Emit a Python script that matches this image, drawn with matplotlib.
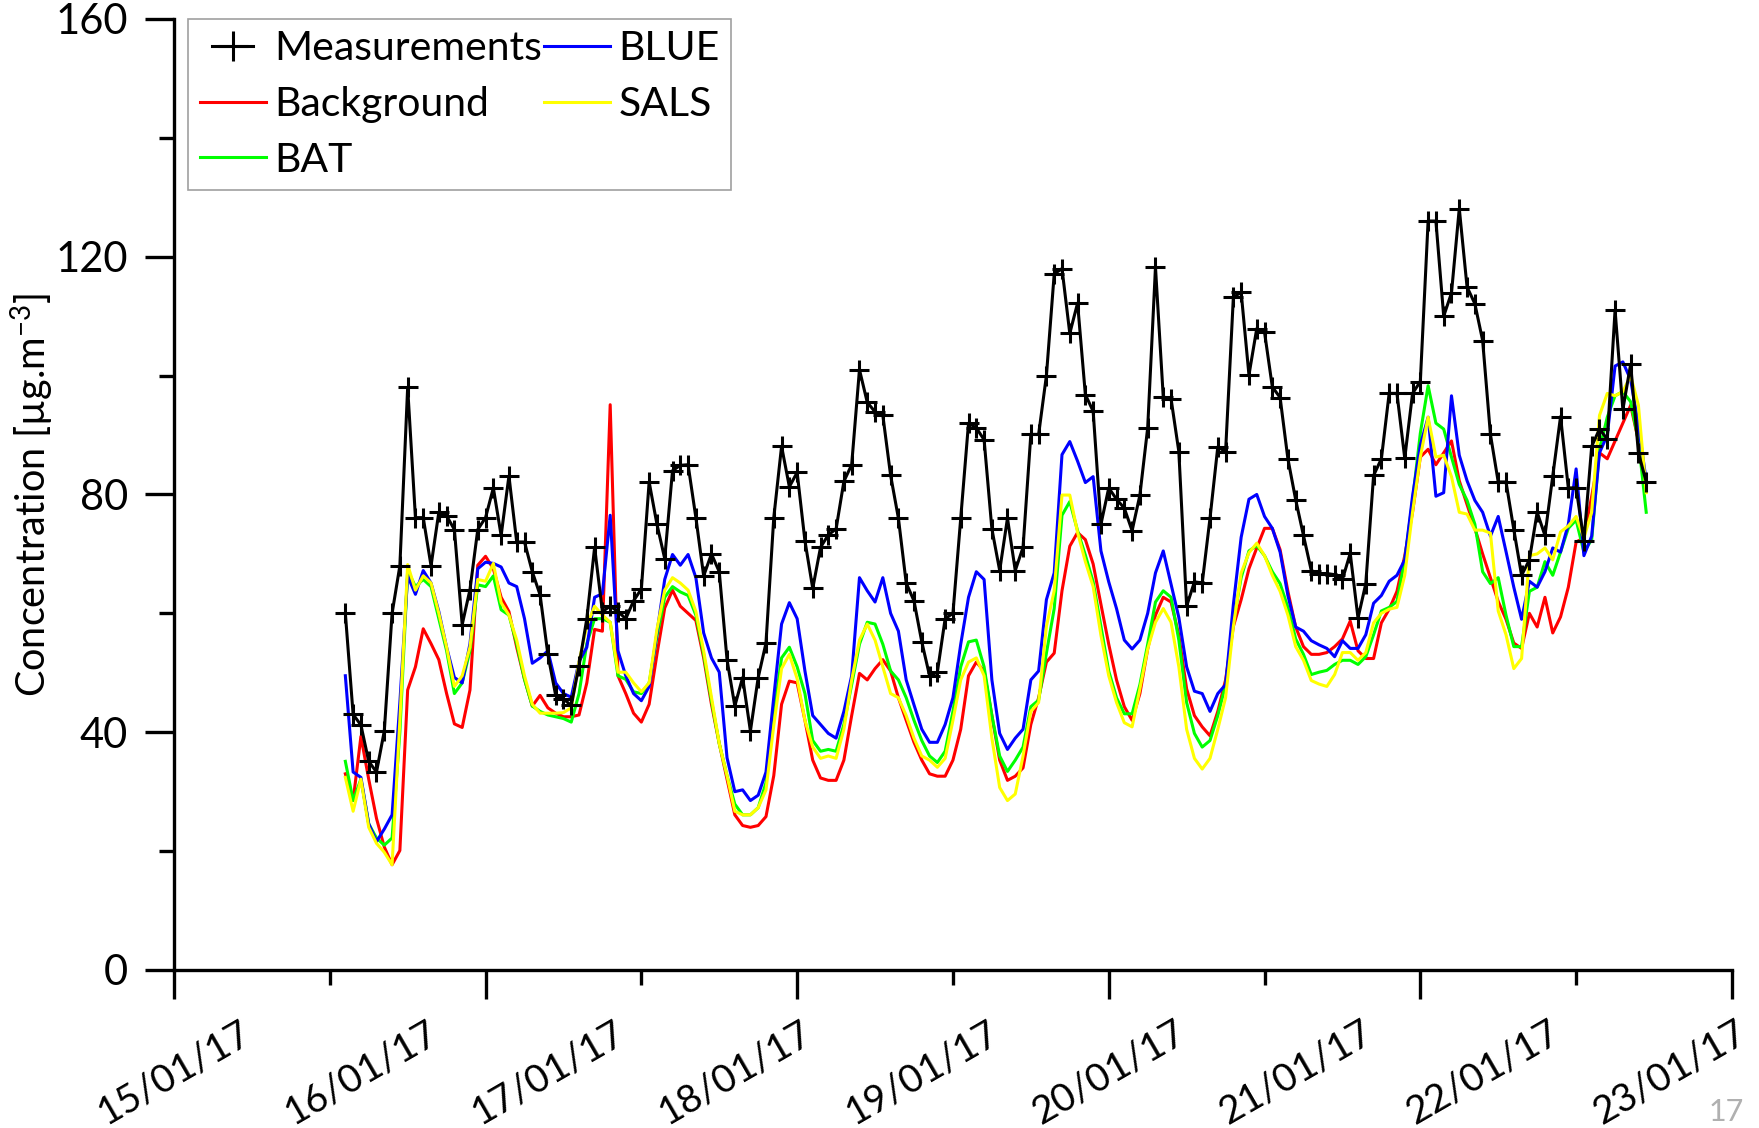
import matplotlib
matplotlib.use("Agg")
import matplotlib.pyplot as plt
import matplotlib.dates as mdates
from matplotlib.lines import Line2D
from matplotlib.legend_handler import HandlerBase
from matplotlib.ticker import FixedLocator, MultipleLocator, NullFormatter
import pandas as pd

plt.rcParams['font.family'] = ['Lato', 'DejaVu Sans']
plt.rcParams['mathtext.fontset'] = 'custom'
plt.rcParams['mathtext.rm'] = 'Lato'
plt.rcParams['mathtext.it'] = 'Lato:italic'
plt.rcParams['mathtext.bf'] = 'Lato:bold'

# Hourly PM concentrations, first sample 15/01/17 22:00
first_sample = "2017-01-15 22:00"

measurements = [
    60.0, 43.0, 41.2, 35.1, 33.3, 40.2, 60.0, 68.0, 98.0, 76.1, 76.1, 68.0,
    77.0, 76.4, 74.1, 58.1, 64.0, 74.1, 76.1, 81.1, 73.1, 83.1, 72.0, 72.0,
    67.0, 63.1, 53.1, 46.2, 45.6, 44.5, 51.2, 59.1, 71.1, 60.3, 61.2, 60.3,
    59.1, 62.1, 64.1, 82.1, 75.0, 69.2, 84.0, 84.9, 85.0, 76.1, 66.3, 70.0,
    67.0, 52.2, 44.4, 49.2, 40.2, 49.2, 55.0, 76.1, 88.1, 81.3, 83.7, 72.2,
    64.2, 71.1, 73.2, 74.2, 82.2, 85.0, 101.0, 95.5, 93.9, 93.3, 83.2, 76.0,
    65.1, 62.1, 55.2, 49.5, 50.1, 59.1, 60.0, 76.0, 92.0, 91.2, 89.2, 74.2,
    67.2, 76.0, 67.2, 71.1, 90.1, 90.1, 100.0, 117.1, 118.0, 107.1, 112.2, 96.8,
    94.0, 75.0, 81.1, 79.2, 77.7, 73.9, 79.9, 91.2, 118.2, 96.4, 96.1, 87.2,
    61.2, 65.3, 65.1, 76.0, 88.0, 87.2, 113.2, 114.0, 100.1, 107.9, 107.3, 98.1,
    96.3, 86.0, 79.1, 73.1, 67.2, 66.7, 66.7, 66.5, 65.7, 70.1, 59.2, 65.0,
    83.2, 86.0, 97.0, 97.0, 86.1, 97.0, 99.0, 126.0, 126.0, 110.0, 113.9, 128.1,
    114.9, 112.1, 105.9, 90.1, 82.1, 82.1, 74.1, 66.4, 69.0, 77.0, 73.1, 83.1,
    93.1, 81.1, 81.1, 72.2, 88.1, 91.0, 89.3, 111.0, 94.3, 101.9, 87.0, 82.1,
]

background = [
    33.0, 28.5, 39.3, 32.1, 25.5, 20.7, 17.7, 20.1, 47.1, 51.0, 57.4, 54.9,
    52.2, 46.5, 41.4, 40.8, 47.1, 68.1, 69.6, 67.5, 62.7, 60.3, 54.3, 48.9,
    44.4, 46.2, 44.1, 43.2, 42.6, 42.6, 42.9, 48.3, 57.3, 57.0, 95.1, 49.5,
    46.5, 43.2, 41.7, 44.7, 53.1, 60.9, 63.9, 61.2, 60.0, 58.8, 52.5, 44.7,
    38.1, 32.1, 26.1, 24.3, 24.0, 24.3, 25.8, 32.7, 44.7, 48.6, 48.3, 42.0,
    35.3, 32.3, 31.9, 31.9, 35.3, 42.8, 49.9, 48.8, 50.7, 52.2, 50.3, 45.8,
    42.0, 38.3, 35.3, 33.0, 32.6, 32.6, 35.3, 40.5, 49.5, 51.8, 50.3, 42.8,
    35.3, 31.9, 32.6, 34.0, 41.3, 45.8, 51.8, 53.3, 63.8, 71.3, 73.6, 72.4,
    68.3, 61.5, 54.8, 48.8, 44.3, 42.0, 46.5, 54.0, 59.7, 62.7, 61.9, 56.3,
    47.3, 42.8, 40.9, 39.4, 43.5, 48.8, 57.8, 62.3, 67.5, 71.0, 74.3, 74.3,
    70.7, 63.7, 57.7, 54.4, 53.1, 53.1, 53.4, 54.4, 55.7, 58.7, 53.7, 52.4,
    52.4, 58.4, 60.7, 63.7, 69.7, 77.0, 86.3, 87.6, 85.0, 87.0, 89.0, 82.3,
    78.3, 74.3, 70.0, 66.0, 62.0, 59.0, 55.0, 54.1, 60.0, 57.7, 62.7, 56.7,
    59.4, 64.4, 72.0, 72.7, 79.7, 87.0, 86.0, 89.0, 92.0, 95.0, 89.0, 81.0,
]

bat = [
    35.1, 28.5, 32.1, 24.6, 22.2, 21.0, 22.2, 40.0, 67.2, 64.5, 65.7, 64.5,
    59.1, 53.7, 46.5, 48.3, 53.7, 64.8, 64.5, 66.3, 60.6, 59.7, 54.9, 48.9,
    44.4, 43.5, 42.9, 42.6, 42.3, 41.7, 46.5, 54.9, 59.1, 59.1, 58.5, 49.5,
    48.9, 46.8, 46.5, 48.3, 56.1, 62.7, 64.5, 63.6, 63.0, 59.7, 53.1, 45.3,
    38.1, 32.7, 27.9, 26.1, 26.1, 27.3, 31.5, 42.9, 52.5, 54.3, 51.0, 46.5,
    38.6, 36.8, 37.1, 36.8, 41.3, 48.0, 54.8, 58.5, 58.2, 54.8, 50.3, 48.8,
    45.8, 42.0, 38.6, 36.0, 34.9, 36.8, 43.5, 51.0, 55.2, 55.5, 51.0, 42.8,
    36.0, 33.4, 35.3, 37.5, 44.3, 45.4, 53.3, 60.8, 76.5, 78.8, 73.9, 69.8,
    65.3, 57.8, 50.3, 45.8, 43.1, 43.1, 48.0, 54.8, 61.9, 63.8, 62.7, 55.5,
    45.0, 39.8, 37.5, 38.6, 42.8, 48.0, 58.5, 66.0, 70.5, 71.4, 69.7, 67.0,
    65.0, 61.0, 55.7, 53.1, 49.7, 50.1, 50.4, 51.4, 52.1, 52.1, 51.4, 52.7,
    56.4, 60.4, 61.0, 62.0, 69.0, 79.0, 90.3, 98.3, 92.0, 91.0, 86.3, 81.7,
    79.0, 75.0, 67.0, 65.0, 66.0, 59.7, 54.4, 54.4, 63.7, 64.4, 68.7, 66.4,
    70.3, 74.3, 75.7, 70.3, 72.4, 87.6, 93.0, 96.6, 97.3, 95.6, 89.0, 77.0,
]

blue = [
    49.5, 33.3, 32.4, 24.6, 21.6, 23.7, 26.1, 45.0, 66.3, 63.2, 67.2, 65.1,
    60.3, 54.3, 49.2, 48.3, 54.9, 67.5, 68.6, 68.4, 67.8, 65.1, 64.5, 59.1,
    51.6, 52.5, 53.7, 48.3, 46.5, 45.9, 51.9, 54.3, 62.7, 63.3, 76.5, 53.7,
    49.5, 46.5, 45.3, 47.7, 56.7, 65.7, 69.9, 68.1, 69.9, 66.0, 56.7, 52.5,
    50.1, 35.7, 30.0, 30.3, 28.5, 29.4, 33.3, 45.9, 58.2, 61.8, 59.1, 50.3,
    42.8, 41.3, 39.8, 39.0, 43.5, 49.5, 66.0, 63.8, 61.9, 66.0, 60.0, 57.0,
    48.8, 44.6, 40.5, 38.3, 38.3, 41.3, 45.8, 54.8, 62.7, 67.0, 65.7, 48.8,
    39.8, 37.1, 39.0, 40.5, 48.8, 50.3, 62.3, 66.8, 86.7, 88.9, 85.6, 82.0,
    83.0, 70.5, 65.3, 60.8, 55.5, 54.0, 55.5, 60.0, 66.8, 70.5, 64.9, 59.3,
    51.0, 46.9, 46.5, 43.5, 46.5, 48.0, 61.5, 72.8, 79.2, 80.0, 76.3, 74.3,
    70.3, 63.0, 57.7, 57.0, 55.4, 54.7, 54.1, 52.7, 55.4, 54.1, 54.1, 56.4,
    61.7, 63.0, 65.4, 66.4, 69.0, 79.7, 88.3, 93.0, 79.7, 80.3, 96.6, 86.6,
    82.3, 79.0, 77.0, 73.0, 76.3, 70.4, 64.4, 59.0, 65.4, 64.4, 67.0, 71.0,
    70.3, 75.0, 84.3, 69.7, 73.0, 87.0, 90.0, 101.6, 102.3, 99.3, 91.6, 82.3,
]

sals = [
    32.4, 26.7, 32.1, 24.0, 21.3, 19.8, 17.7, 42.0, 68.2, 63.9, 66.3, 65.1,
    60.0, 54.3, 47.7, 49.5, 54.3, 65.7, 65.4, 68.4, 61.8, 59.7, 55.5, 49.5,
    44.7, 43.2, 43.2, 43.2, 43.3, 44.1, 51.9, 57.9, 61.2, 59.7, 58.5, 50.1,
    50.1, 48.3, 46.8, 48.3, 57.3, 63.9, 66.0, 65.1, 63.9, 60.3, 53.7, 45.9,
    38.1, 32.7, 26.7, 26.1, 26.1, 27.3, 30.3, 41.1, 50.7, 53.1, 49.0, 42.0,
    37.5, 35.6, 36.0, 35.6, 40.5, 48.8, 55.5, 58.2, 55.5, 51.0, 46.5, 45.8,
    42.8, 39.0, 36.0, 35.3, 34.1, 35.6, 42.0, 48.8, 51.8, 52.5, 49.5, 39.0,
    30.7, 28.5, 29.6, 36.0, 43.5, 45.0, 57.8, 63.8, 79.9, 79.9, 73.6, 68.7,
    64.5, 56.3, 49.5, 45.0, 41.6, 40.9, 47.3, 54.0, 58.5, 60.8, 58.5, 51.0,
    40.5, 35.6, 33.8, 35.6, 40.5, 45.8, 57.8, 66.8, 70.2, 71.8, 69.7, 66.4,
    63.7, 59.7, 54.4, 52.1, 48.7, 48.1, 47.7, 49.7, 53.4, 53.4, 52.1, 53.4,
    58.4, 60.0, 60.7, 61.0, 66.4, 77.0, 86.3, 93.0, 86.3, 86.6, 83.0, 77.0,
    76.7, 74.0, 74.0, 73.5, 60.4, 56.4, 50.7, 52.4, 69.7, 70.0, 71.0, 69.0,
    73.7, 74.7, 76.3, 72.7, 77.0, 93.3, 97.0, 96.6, 97.3, 100.0, 95.0, 80.3,
]

series_names = ["Measurements", "Background", "BAT", "BLUE", "SALS"]
day_labels = ["15/01/17", "16/01/17", "17/01/17", "18/01/17", "19/01/17",
              "20/01/17", "21/01/17", "22/01/17", "23/01/17"]

times = pd.date_range(first_sample, periods=len(measurements), freq="h")

axis_start = pd.Timestamp("2017-01-15 00:00")
axis_end = pd.Timestamp("2017-01-23 08:00")


class PlusSymbolHandler(HandlerBase):
    """Legend symbol: a '+' marker crossed by a short horizontal bar."""

    def create_artists(self, legend, orig_handle, xdescent, ydescent,
                       width, height, fontsize, trans):
        cx = -xdescent + width / 2.0
        cy = -ydescent + height / 2.0
        half = 0.31 * width
        bar = Line2D([cx - half, cx + half], [cy, cy], color="black",
                     lw=2.2, transform=trans)
        plus = Line2D([cx], [cy], color="black", lw=0, marker="+",
                      ms=22, mew=2.2, transform=trans)
        return [bar, plus]


fig = plt.figure(figsize=(17.59, 11.28), dpi=100)
ax = fig.add_axes([0.0989, 0.1401, 0.8857, 0.8431])

lw = 2.2
l_bg, = ax.plot(times, background, color="#ff0000", lw=lw, zorder=3)
l_bat, = ax.plot(times, bat, color="#00ff00", lw=lw, zorder=3)
l_blue, = ax.plot(times, blue, color="#0000ff", lw=lw, zorder=3)
l_sals, = ax.plot(times, sals, color="#ffff00", lw=lw, zorder=3)
l_meas, = ax.plot(times, measurements, color="black", lw=lw, marker="+",
                  ms=15, mew=2.2, zorder=4)

ax.set_xlim(axis_start, axis_end)
ax.set_ylim(0, 160)

# axis styling: left and bottom spines only, ticks outward
for side in ("top", "right"):
    ax.spines[side].set_visible(False)
for side in ("left", "bottom"):
    ax.spines[side].set_linewidth(2.4)

t0 = mdates.date2num(axis_start)
ax.xaxis.set_major_locator(FixedLocator([t0 + h / 24 for h in range(0, 201, 40)]))
ax.xaxis.set_minor_locator(FixedLocator([t0 + h / 24 for h in range(20, 201, 40)]))
ax.xaxis.set_major_formatter(NullFormatter())
ax.xaxis.set_minor_formatter(NullFormatter())
ax.yaxis.set_major_locator(MultipleLocator(40))
ax.yaxis.set_minor_locator(MultipleLocator(20))

ax.tick_params(axis="both", which="major", direction="out", length=21,
               width=2.4, labelsize=30, pad=12)
ax.tick_params(axis="both", which="minor", direction="out", length=11,
               width=2.4)

# date labels centred on each midnight
for i, lab in enumerate(day_labels):
    xpos = t0 + i
    ax.text(xpos, -0.047, lab, transform=ax.get_xaxis_transform(),
            rotation=30, ha="center", va="top", fontsize=28)

ax.set_ylabel("Concentration [µg.m$^{-3}$]", fontsize=28.5)
ax.yaxis.set_label_coords(-0.076, 0.5)

meas_handle = Line2D([], [], color="black", lw=2.2, marker="+")
handles = [meas_handle, l_bg, l_bat, l_blue, l_sals]
leg = ax.legend(handles, series_names, ncol=2, loc="upper left",
                bbox_to_anchor=(0.0093, 1.0), borderaxespad=0,
                frameon=True, fancybox=False, edgecolor="#a0a0a0",
                fontsize=29.5, handlelength=1.62, handletextpad=0.2,
                columnspacing=0.05, labelspacing=0.46, borderpad=0.27,
                framealpha=1, handler_map={meas_handle: PlusSymbolHandler()})
leg.get_frame().set_linewidth(1.2)

fig.text(0.9915, 0.002, "17", color="#b0b0b0", fontsize=22,
         ha="right", va="bottom")

fig.savefig("out.png", dpi=100)
